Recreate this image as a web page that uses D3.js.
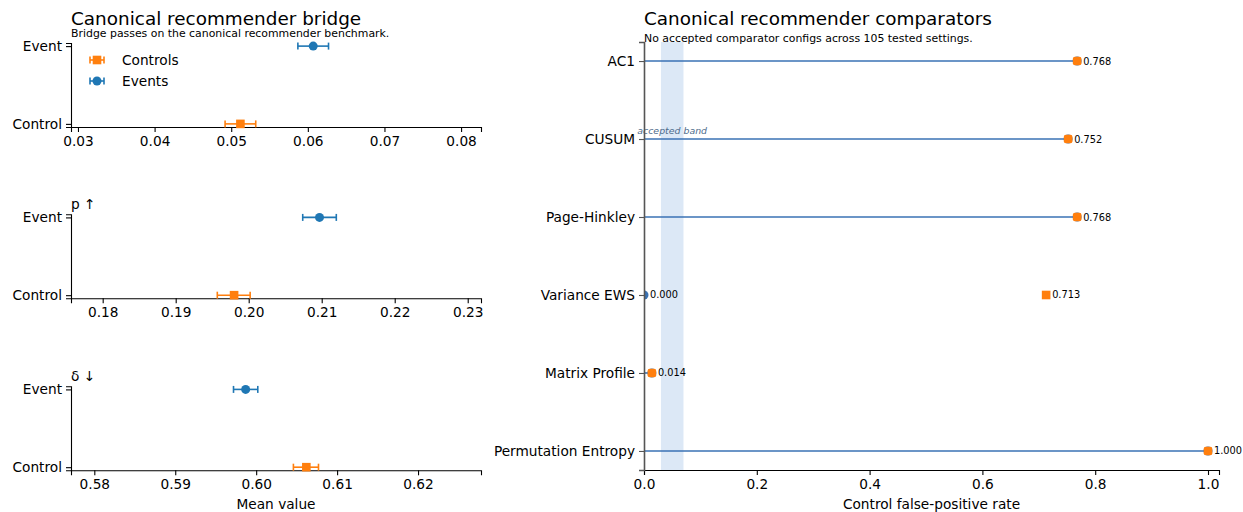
<!DOCTYPE html>
<html><head><meta charset="utf-8">
<script src="https://cdn.jsdelivr.net/npm/d3@7"></script>
<style>
body{margin:0;background:#fff;}
svg{display:block;font-family:"DejaVu Sans",sans-serif;}
</style></head>
<body><svg id="c" width="1243" height="512"></svg>
<script>
// ---- Left panel data (bridge metrics) ----
const metricLabels = ["", "p \u2191", "\u03b4 \u2193"];
const groups = ["Control", "Event"];
const eventMean = [0.0607, 0.2097, 0.5987];
const eventLo   = [0.0587, 0.2074, 0.5972];
const eventHi   = [0.0627, 0.2120, 0.6002];
const controlMean = [0.0512, 0.1980, 0.6062];
const controlLo   = [0.0492, 0.1957, 0.6046];
const controlHi   = [0.0532, 0.2002, 0.6077];
const xDomains = [[0.02909, 0.0826], [0.17566, 0.23182], [0.57712, 0.62778]];
const xTicks = [
  [0.03, 0.04, 0.05, 0.06, 0.07, 0.08],
  [0.18, 0.19, 0.20, 0.21, 0.22, 0.23],
  [0.58, 0.59, 0.60, 0.61, 0.62]
];
const legendLabels = ["Controls", "Events"];

// ---- Right panel data (comparators) ----
const comparators = ["AC1", "CUSUM", "Page-Hinkley", "Variance EWS", "Matrix Profile", "Permutation Entropy"];
const stemFPR    = [0.768, 0.752, 0.768, 0.000, 0.014, 1.000];
const controlFPR = [0.768, 0.752, 0.768, 0.713, 0.014, 1.000];
const acceptedBand = [0.03, 0.07];
const rightTicks = [0.0, 0.2, 0.4, 0.6, 0.8, 1.0];

const ORANGE = "#ff7f0e", BLUE = "#1f77b4", STEM = "#3a72b4";
const FS = 13.7;
const svg = d3.select("#c");

// ---------------- Left panels ----------------
const L = {x0: 71, x1: 481};
const panels = [{top: 43, bottom: 127}, {top: 214.3, bottom: 298.3}, {top: 386.3, bottom: 470.3}];

svg.append("text").attr("x", L.x0).attr("y", 24.8).attr("font-size", 18.4).attr("fill", "#000")
  .text("Canonical recommender bridge");
svg.append("text").attr("x", L.x0).attr("y", 36.8).attr("font-size", 10.9).attr("fill", "#000")
  .text("Bridge passes on the canonical recommender benchmark.");

function styleAxis(g, color) {
  g.selectAll(".domain").attr("stroke", color).attr("stroke-width", 1.1);
  g.selectAll(".tick line").attr("stroke", color).attr("stroke-width", 1.1);
  g.selectAll(".tick text").attr("fill", "#000").attr("font-size", FS).attr("font-family", "DejaVu Sans");
}

function errPoint(g, cx, lo, hi, cy, color, shape) {
  g.append("line").attr("x1", lo).attr("x2", hi).attr("y1", cy).attr("y2", cy)
    .attr("stroke", color).attr("stroke-width", 1.6);
  [lo, hi].forEach(v => g.append("line").attr("x1", v).attr("x2", v).attr("y1", cy - 3.5).attr("y2", cy + 3.5)
    .attr("stroke", color).attr("stroke-width", 1.6));
  if (shape === "square") {
    g.append("rect").attr("x", cx - 4.3).attr("y", cy - 4.3).attr("width", 8.6).attr("height", 8.6).attr("fill", color);
  } else {
    g.append("circle").attr("cx", cx).attr("cy", cy).attr("r", 4.5).attr("fill", color);
  }
}

panels.forEach((p, i) => {
  const x = d3.scaleLinear().domain(xDomains[i]).range([L.x0, L.x1]);
  const y = d3.scaleLinear().domain([-0.04, 1.04]).range([p.bottom, p.top]);
  const yMap = {Control: 0, Event: 1};
  const g = svg.append("g");

  const xa = g.append("g").attr("transform", `translate(0,${p.bottom})`)
    .call(d3.axisBottom(x).tickValues(xTicks[i]).tickFormat(d3.format(".2f")).tickSizeOuter(0).tickSize(5).tickPadding(4));
  styleAxis(xa, "#000");
  const ya = g.append("g").attr("transform", `translate(${L.x0},0)`)
    .call(d3.axisLeft(y).tickValues(groups.map(d => yMap[d])).tickFormat((d) => d === 1 ? "Event" : "Control")
      .tickSizeOuter(0).tickSize(5).tickPadding(4));
  styleAxis(ya, "#000");

  errPoint(g, x(eventMean[i]), x(eventLo[i]), x(eventHi[i]), y(1), BLUE, "circle");
  errPoint(g, x(controlMean[i]), x(controlLo[i]), x(controlHi[i]), y(0), ORANGE, "square");

  if (metricLabels[i]) {
    g.append("text").attr("x", L.x0).attr("y", p.top - 5).attr("font-size", FS).attr("fill", "#000")
      .text(metricLabels[i]);
  }
  if (i === 0) {
    const items = [{c: ORANGE, s: "square"}, {c: BLUE, s: "circle"}];
    items.forEach((it, k) => {
      const ly = 60 + k * 21;
      errPoint(g, 97, 90, 104, ly, it.c, it.s);
      g.append("text").attr("x", 122).attr("y", ly + 4.8).attr("font-size", FS).attr("fill", "#000").text(legendLabels[k]);
    });
  }
  if (i === 2) {
    g.append("text").attr("x", (L.x0 + L.x1) / 2).attr("y", 509).attr("text-anchor", "middle")
      .attr("font-size", FS).attr("fill", "#000").text("Mean value");
  }
});

// ---------------- Right panel ----------------
const R = {x0: 644, x1: 1219, top: 42, bottom: 470};
const xr = d3.scaleLinear().domain([0, 1.0195]).range([R.x0, R.x1]);
const yr = d3.scalePoint().domain(comparators).range([R.top, R.bottom]).padding(0.244);

svg.append("defs").append("clipPath").attr("id", "rclip").append("rect")
  .attr("x", R.x0).attr("y", R.top).attr("width", R.x1 - R.x0 + 20).attr("height", R.bottom - R.top);

svg.append("text").attr("x", R.x0).attr("y", 24.8).attr("font-size", 18.4).attr("fill", "#000")
  .text("Canonical recommender comparators");
svg.append("text").attr("x", R.x0).attr("y", 41.5).attr("font-size", 10.9).attr("fill", "#000")
  .text("No accepted comparator configs across 105 tested settings.");

const gr = svg.append("g");
gr.append("rect").attr("x", xr(acceptedBand[0])).attr("y", R.top)
  .attr("width", xr(acceptedBand[1]) - xr(acceptedBand[0])).attr("height", R.bottom - R.top)
  .attr("fill", "#dce8f6");

const marks = gr.append("g").attr("clip-path", "url(#rclip)");

gr.append("text").attr("x", xr((acceptedBand[0] + acceptedBand[1]) / 2)).attr("y", yr("CUSUM") - 5)
  .attr("text-anchor", "middle").attr("font-size", 9.4).attr("font-style", "italic").attr("fill", "#4d6b8c")
  .text("accepted band");

comparators.forEach((c, i) => {
  const cy = yr(c);
  marks.append("line").attr("x1", xr(0)).attr("x2", xr(stemFPR[i])).attr("y1", cy).attr("y2", cy)
    .attr("stroke", STEM).attr("stroke-width", 1.6);
  marks.append("circle").attr("cx", xr(stemFPR[i])).attr("cy", cy).attr("r", 4.5).attr("fill", STEM);
  marks.append("rect").attr("x", xr(controlFPR[i]) - 4.3).attr("y", cy - 4.3).attr("width", 8.6).attr("height", 8.6)
    .attr("rx", controlFPR[i] === stemFPR[i] ? 2 : 0).attr("fill", ORANGE);
  const labelled = controlFPR[i] === stemFPR[i] ? [controlFPR[i]] : [stemFPR[i], controlFPR[i]];
  labelled.forEach(v => {
    gr.append("text").attr("x", xr(v) + 6).attr("y", cy + 3.5).attr("font-size", 9.8).attr("fill", "#000")
      .text(d3.format(".3f")(v));
  });
});

const xra = gr.append("g").attr("transform", `translate(0,${R.bottom})`)
  .call(d3.axisBottom(xr).tickValues(rightTicks).tickFormat(d3.format(".1f")).tickSizeOuter(0).tickSize(5).tickPadding(4));
styleAxis(xra, "#000");
const yra = gr.append("g").attr("transform", `translate(${R.x0},0)`)
  .call(d3.axisLeft(yr).tickSizeOuter(0).tickSize(5).tickPadding(4));
styleAxis(yra, "#555");
yra.select(".domain").attr("stroke", "#555").attr("stroke-width", 1.6);

gr.append("text").attr("x", (R.x0 + R.x1) / 2).attr("y", 509).attr("text-anchor", "middle")
  .attr("font-size", FS).attr("fill", "#000").text("Control false-positive rate");
</script></body></html>
